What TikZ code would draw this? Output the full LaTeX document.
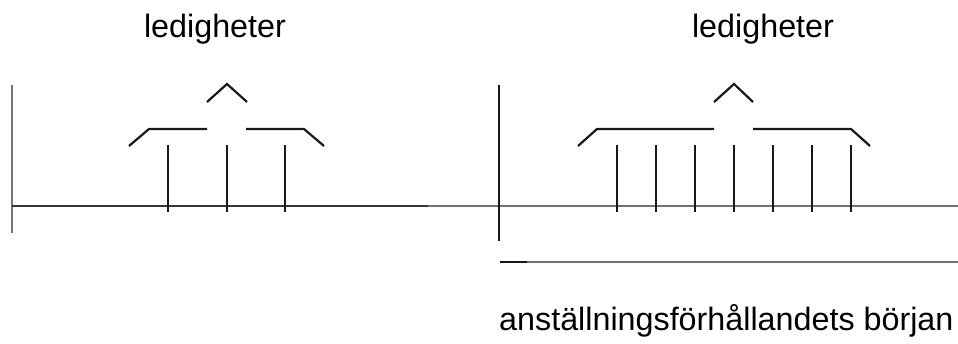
\documentclass[tikz,border=0pt]{standalone}
\usepackage{fontspec}
\setmainfont{Liberation Sans}
\begin{document}
\begin{tikzpicture}[x=1pt,y=-1pt,
  ln/.style={line width=2.2pt,black!90},
  axis/.style={line width=2.4pt,black!78},
  axisl/.style={line width=2.4pt,black!55},
  lbl/.style={anchor=base,inner sep=0pt,font=\fontsize{32.3}{38}\selectfont}]
\useasboundingbox (0,0) rectangle (958,344);
% texts
\node[lbl] (t1) at (215,38) {ledigheter};
\node[lbl] (t2) at (763,38) {ledigheter};
\node[lbl,anchor=base west] (t3) at (499,331) {anställningsförhållandets början};
% left panel
\draw[axisl] (12,85) -- (12,233);
\draw[axis] (12,206) -- (428,206);
\draw[axisl] (428,206) -- (958,206);
\foreach \x in {168,227,285} \draw[ln] (\x,145) -- (\x,212);
\draw[ln] (129,146) -- (149,129) -- (207,129);
\draw[ln] (246,129) -- (304,129) -- (324,146);
\draw[ln] (207,102) -- (227,84) -- (247,102);
% right panel
\draw[ln] (499,85) -- (499,241);
\foreach \x in {617,656,695,734,773,812,851} \draw[ln] (\x,145) -- (\x,212);
\draw[ln] (578,146) -- (597,129) -- (714,129);
\draw[ln] (753,129) -- (851,129) -- (870,146);
\draw[ln] (714,102) -- (734,84) -- (753,102);
\draw[ln] (500,262) -- (527,262);
\draw[axisl] (527,262) -- (958,262);
\end{tikzpicture}
\end{document}
